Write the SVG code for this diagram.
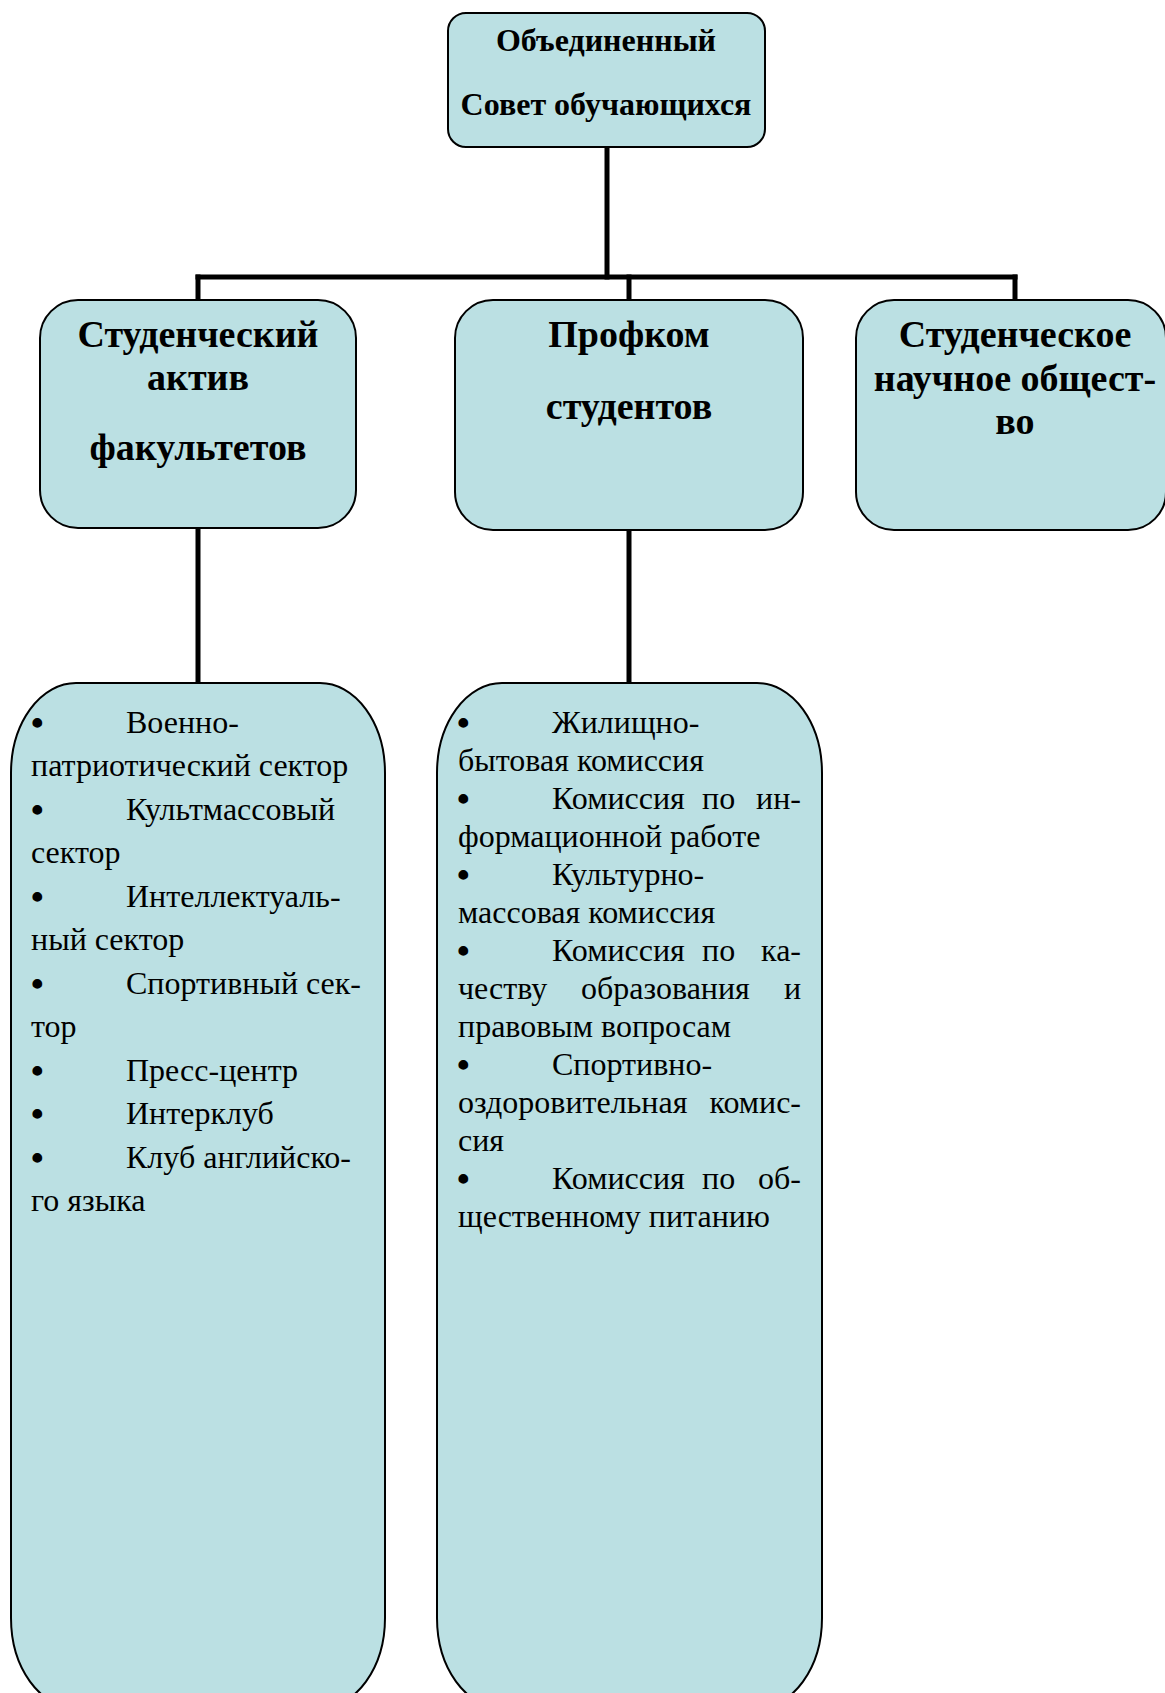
<svg xmlns="http://www.w3.org/2000/svg" width="1165" height="1693" viewBox="0 0 1165 1693">
<style>
.box{fill:#bbe0e3;stroke:#000;stroke-width:2}
.conn{stroke:#000;stroke-width:5;fill:none;stroke-linecap:square}
.t1{font-family:"Liberation Serif","Times New Roman",serif;font-weight:bold;font-size:32px;text-anchor:middle;fill:#000}
.t2{font-family:"Liberation Serif","Times New Roman",serif;font-weight:bold;font-size:38px;text-anchor:middle;fill:#000}
.t3{font-family:"Liberation Serif","Times New Roman",serif;font-size:32px;fill:#000}
.b{font-size:36px;font-weight:bold}
.e{text-anchor:end}
</style>
<rect width="1165" height="1693" fill="#fff"/>
<g id="connectors">
<path class="conn" d="M607 147 V277"/>
<path class="conn" d="M198 277 H1015"/>
<path class="conn" d="M198 277 V300"/>
<path class="conn" d="M629 277 V300"/>
<path class="conn" d="M1015 277 V300"/>
<path class="conn" d="M198 528 V683"/>
<path class="conn" d="M629 530 V683"/>
</g>
<g id="node-council">
<rect class="box" x="448" y="13" width="317" height="134" rx="18"/>
<text class="t1" x="606" y="51">Объединенный</text>
<text class="t1" x="606" y="115">Совет обучающихся</text>
</g>
<g id="node-activ">
<rect class="box" x="40" y="300" width="316" height="228" rx="38"/>
<text class="t2" x="198" y="347">Студенческий</text>
<text class="t2" x="198" y="390">актив</text>
<text class="t2" x="198" y="460">факультетов</text>
</g>
<g id="node-profkom">
<rect class="box" x="455" y="300" width="348" height="230" rx="38"/>
<text class="t2" x="629" y="347">Профком</text>
<text class="t2" x="629" y="419">студентов</text>
</g>
<g id="node-sno">
<rect class="box" x="856" y="300" width="310" height="230" rx="38"/>
<text class="t2" x="1015" y="347">Студенческое</text>
<text class="t2" x="1015" y="391">научное общест-</text>
<text class="t2" x="1015" y="434">во</text>
</g>
<g id="node-sectors">
<rect class="box" x="11" y="683" width="374" height="1025" rx="65" ry="90"/>
<g class="t3">
<text class="b" x="31" y="735">•</text><text x="126" y="733">Военно-</text>
<text x="31" y="776">патриотический сектор</text>
<text class="b" x="31" y="822">•</text><text x="126" y="820">Культмассовый</text>
<text x="31" y="863">сектор</text>
<text class="b" x="31" y="909">•</text><text x="126" y="907">Интеллектуаль-</text>
<text x="31" y="950">ный сектор</text>
<text class="b" x="31" y="996">•</text><text x="126" y="994">Спортивный сек-</text>
<text x="31" y="1037">тор</text>
<text class="b" x="31" y="1083">•</text><text x="126" y="1081">Пресс-центр</text>
<text class="b" x="31" y="1126">•</text><text x="126" y="1124">Интерклуб</text>
<text class="b" x="31" y="1170">•</text><text x="126" y="1168">Клуб английско-</text>
<text x="31" y="1211">го языка</text>
</g>
</g>
<g id="node-commissions">
<rect class="box" x="437" y="683" width="385" height="1025" rx="65" ry="90"/>
<g class="t3">
<text class="b" x="457" y="735">•</text><text x="552" y="733">Жилищно-</text>
<text x="458" y="771">бытовая комиссия</text>
<text class="b" x="457" y="811">•</text><text x="552" y="809">Комиссия</text><text x="702" y="809">по</text><text class="e" x="801" y="809">ин-</text>
<text x="458" y="847">формационной работе</text>
<text class="b" x="457" y="887">•</text><text x="552" y="885">Культурно-</text>
<text x="458" y="923">массовая комиссия</text>
<text class="b" x="457" y="963">•</text><text x="552" y="961">Комиссия</text><text x="702" y="961">по</text><text class="e" x="801" y="961">ка-</text>
<text x="458" y="999">честву</text><text x="581" y="999">образования</text><text class="e" x="801" y="999">и</text>
<text x="458" y="1037">правовым вопросам</text>
<text class="b" x="457" y="1077">•</text><text x="552" y="1075">Спортивно-</text>
<text x="458" y="1113">оздоровительная</text><text class="e" x="801" y="1113">комис-</text>
<text x="458" y="1151">сия</text>
<text class="b" x="457" y="1191">•</text><text x="552" y="1189">Комиссия</text><text x="702" y="1189">по</text><text class="e" x="801" y="1189">об-</text>
<text x="458" y="1227">щественному питанию</text>
</g>
</g>
</svg>
